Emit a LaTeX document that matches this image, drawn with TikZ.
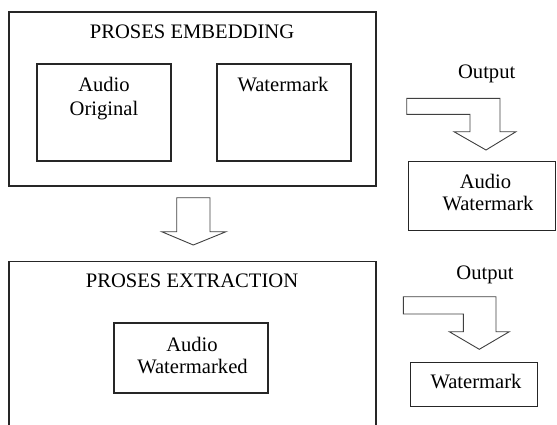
\documentclass[tikz,border=0pt]{standalone}
\usepackage{fontspec}
\setmainfont{Liberation Serif}
\begin{document}
\begin{tikzpicture}[x=1pt,y=-1pt,
  box/.style={draw=black!85, line width=1.1pt, inner sep=0pt, fill=none},
  lbl/.style={font=\fontsize{20.6}{24}\selectfont, anchor=base, inner sep=0pt, text=black},
  blockarrow/.style={draw=black!75, line width=0.9pt, fill=white, line join=miter}]
\useasboundingbox (0,0) rectangle (557,424);
% boxes
\node[box, minimum width=367pt, minimum height=174pt] (emb) at (192.5,99) {};
\node[box, minimum width=134pt, minimum height=97pt] (ao) at (104,112.5) {};
\node[box, minimum width=134pt, minimum height=97pt] (wm) at (284,112.5) {};
\node[box, minimum width=367pt, minimum height=168pt] (ext) at (192.5,345.7) {};
\node[box, minimum width=154pt, minimum height=70pt] (awd) at (191,358) {};
\node[box, minimum width=147pt, minimum height=68.3pt] (aw) at (482,195.9) {};
\node[box, minimum width=127.7pt, minimum height=44.4pt] (wout) at (473.9,384.5) {};
% texts
\node[lbl] (t1) at (192,38.5) {PROSES EMBEDDING};
\node[lbl] (ao1) at (104,91.7) {Audio};
\node[lbl] (ao2) at (104,115) {Original};
\node[lbl] (wm1) at (283,91.7) {Watermark};
\node[lbl] (o1) at (486.7,78) {Output};
\node[lbl] (aw1) at (485.5,188.3) {Audio};
\node[lbl] (aw2) at (488,210) {Watermark};
\node[lbl] (t2) at (192,287.7) {PROSES EXTRACTION};
\node[lbl] (awd1) at (192,351) {Audio};
\node[lbl] (awd2) at (192.5,373) {Watermarked};
\node[lbl] (o2) at (485,279.3) {Output};
\node[lbl] (wo1) at (476,388.3) {Watermark};
% block arrows
\draw[blockarrow] (176.7,197.7) -- (210,197.7) -- (210,231.7) -- (226,231.7) -- (193.3,245)
  -- (161.7,231.7) -- (176.7,231.7) -- cycle;
\draw[blockarrow] (406.7,98.3) -- (500,98.3) -- (500,131.7) -- (516,131.7) -- (486,150)
  -- (454,131.7) -- (470,131.7) -- (470,114.3) -- (406.7,114.3) -- cycle;
\draw[blockarrow] (403.3,296.7) -- (496,296.7) -- (496,331.7) -- (509.3,331.7) -- (479.3,349.3)
  -- (449.3,331.7) -- (463.3,331.7) -- (463.3,314) -- (403.3,314) -- cycle;
\end{tikzpicture}
\end{document}
